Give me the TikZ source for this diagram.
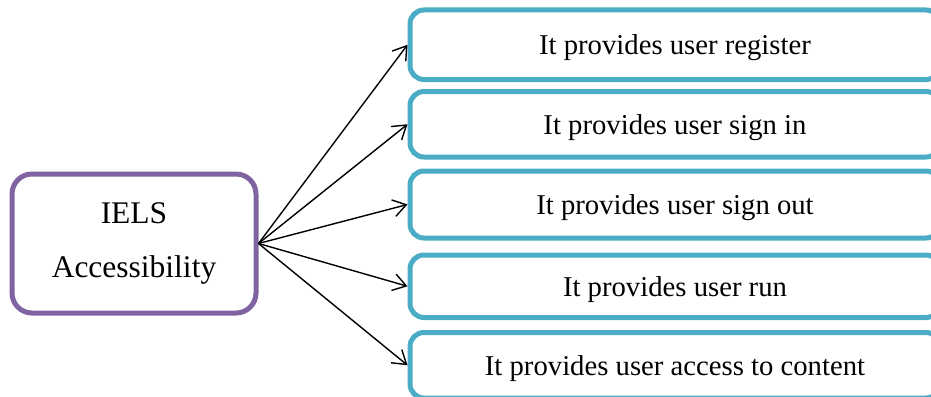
\documentclass[tikz,border=0pt]{standalone}
\usepackage{fontspec}
\setmainfont{Liberation Serif}
\usetikzlibrary{arrows.meta}

\definecolor{purpleline}{HTML}{8064A2}
\definecolor{tealline}{HTML}{4BACC6}

\begin{document}
\begin{tikzpicture}[x=1pt,y=-1pt]

	% ---- styles

	\tikzset{
		mainbox/.style={draw=purpleline, line width=5pt, rounded corners=20pt,
			fill=white, minimum width=244pt, minimum height=139pt, align=center,
			font=\fontsize{31.5}{54}\selectfont},
		itembox/.style={draw=tealline, line width=5pt, rounded corners=14pt,
			fill=white, minimum width=530pt, text height=19.5pt, text depth=0pt,
			font=\fontsize{28.7}{34}\selectfont},
		link/.style={-{Straight Barb[length=13pt,width=17pt]}, line width=1.4pt},
	}

	% ---- frame

	\clip (0,0) rectangle (931,396);

	% ---- main box

	\node[mainbox] (acc) at (134,243.5) {IELS\\Accessibility};

	% ---- item boxes

	\foreach \i/\y/\h/\txt in {
		1/44.75/69.5/It provides user register,
		2/124.25/65.5/It provides user sign in,
		3/204.5/67/It provides user sign out,
		4/286.25/62.5/It provides user run,
		5/365.25/65.5/It provides user access to content} {
		\node[itembox, minimum height=\h pt] (F\i) at (675,\y) {\txt};
	}

	% ---- arrows

	\foreach \i in {1,...,5} { \draw[link] (acc.east) -- (F\i.west); }

\end{tikzpicture}
\end{document}
